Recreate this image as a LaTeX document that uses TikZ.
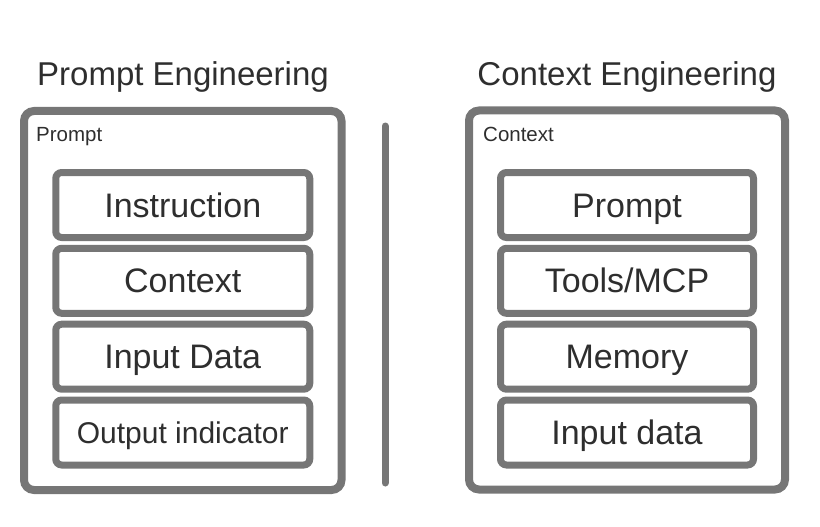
\documentclass[tikz,border=0pt]{standalone}
\usepackage{fontspec}
\setmainfont{Liberation Sans}
\definecolor{strokegray}{HTML}{767676}
\definecolor{textdark}{HTML}{2E2E2E}
\begin{document}
\begin{tikzpicture}[x=1pt,y=-1pt,
  outerbox/.style={draw=strokegray, line width=8pt, rounded corners=10pt, minimum width=#1, minimum height=379pt, inner sep=0pt},
  innerbox/.style={draw=strokegray, line width=7pt, rounded corners=6pt, minimum width=254pt, minimum height=65pt, inner sep=0pt, text=textdark, font=\fontsize{34}{37}\selectfont, text height=24pt, text depth=0pt},
  titletext/.style={anchor=base, inner sep=0pt, text=textdark, font=\fontsize{33}{36}\selectfont},
  labeltext/.style={anchor=base west, inner sep=0pt, text=textdark, font=\fontsize{20.5}{24}\selectfont}
]
\useasboundingbox (0,0) rectangle (820,527);
% titles
\node[titletext] (t1) at (183,85) {Prompt Engineering};
\node[titletext] (t2) at (627,85) {Context Engineering};
% outer boxes
\node[outerbox=317.5pt] (ol) at (182.75,300.5) {};
\node[outerbox=316pt] (or) at (627,300) {};
\node[labeltext] (lp) at (36,142) {Prompt};
\node[labeltext] (lc) at (483,141) {Context};
% left inner
\node[innerbox] (a1) at (182.75,205) {Instruction};
\node[innerbox] (a2) at (182.75,280.8) {Context};
\node[innerbox] (a3) at (182.75,356.7) {Input Data};
\node[innerbox, font=\fontsize{30}{33}\selectfont, text height=21.5pt] (a4) at (182.75,432.5) {Output indicator};
% right inner
\node[innerbox, minimum width=253pt] (b1) at (627,205) {Prompt};
\node[innerbox, minimum width=253pt] (b2) at (627,280.8) {Tools/MCP};
\node[innerbox, minimum width=253pt] (b3) at (627,356.7) {Memory};
\node[innerbox, minimum width=253pt] (b4) at (627,432.5) {Input data};
% divider
\coordinate (d1) at (385,126);
\coordinate (d2) at (385,483);
\draw[strokegray, line width=7pt, line cap=round] (d1) -- (d2);
\end{tikzpicture}
\end{document}
